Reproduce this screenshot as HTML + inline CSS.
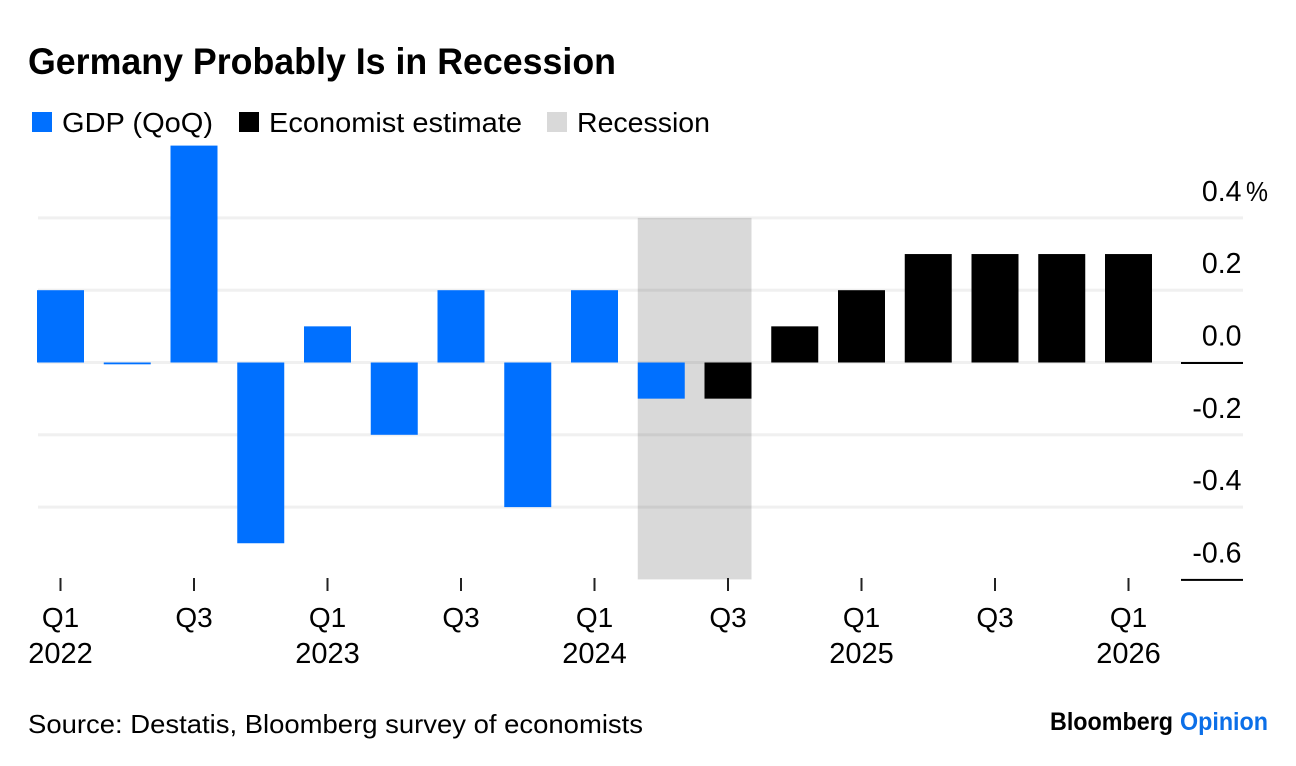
<!DOCTYPE html>
<html lang="en">
<head>
<meta charset="utf-8">
<title>Germany Probably Is in Recession</title>
<style>
html,body{margin:0;padding:0;background:#fff;}
svg{display:block;font-family:"Liberation Sans",Arial,sans-serif;}
text{fill:#000;}
</style>
</head>
<body>
<svg id="chart" xmlns="http://www.w3.org/2000/svg" width="1296" height="766" viewBox="0 0 1296 766">
  <rect width="1296" height="766" fill="#ffffff"/>
  <text x="28" y="74" font-size="37" font-weight="700" textLength="588" lengthAdjust="spacingAndGlyphs">Germany Probably Is in Recession</text>

  <g>
    <rect x="32" y="112" width="20" height="20" fill="#0070ff"/>
    <text x="62" y="132" font-size="28" textLength="151" lengthAdjust="spacingAndGlyphs">GDP (QoQ)</text>
    <rect x="239" y="112" width="20" height="20" fill="#000000"/>
    <text x="269" y="132" font-size="28" textLength="253" lengthAdjust="spacingAndGlyphs">Economist estimate</text>
    <rect x="547" y="112" width="20" height="20" fill="#d9d9d9"/>
    <text x="577" y="132" font-size="28" textLength="133" lengthAdjust="spacingAndGlyphs">Recession</text>
  </g>

  <g id="plot"></g>

  <text x="28" y="733" font-size="26" textLength="615" lengthAdjust="spacingAndGlyphs">Source: Destatis, Bloomberg survey of economists</text>
  <g>
    <text x="1050" y="730" font-size="25" font-weight="700" textLength="123" lengthAdjust="spacingAndGlyphs">Bloomberg</text>
    <text x="1180" y="730" font-size="25" font-weight="700" textLength="88" lengthAdjust="spacingAndGlyphs" style="fill:#0b6fe8">Opinion</text>
  </g>
</svg>
<script>
const gdpValues = [0.2, -0.005, 0.6, -0.5, 0.1, -0.2, 0.2, -0.4, 0.2, -0.1];
const estimateValues = [-0.1, 0.1, 0.2, 0.3, 0.3, 0.3, 0.3];
const quarterLabels = ['Q1', '', 'Q3', '', 'Q1', '', 'Q3', '', 'Q1', '', 'Q3', '', 'Q1', '', 'Q3', '', 'Q1'];
const yearLabels = ['2022', '', '', '', '2023', '', '', '', '2024', '', '', '', '2025', '', '', '', '2026'];
const yTickValues = [0.4, 0.2, 0, -0.2, -0.4, -0.6];
const yTickLabels = ['0.4', '0.2', '0.0', '-0.2', '-0.4', '-0.6'];
const recessionQuarters = [9, 10];

const NS = 'http://www.w3.org/2000/svg';
const plot = document.getElementById('plot');
const barWidth = 47;
function xScale(i) { return 37 + i * 66.75; }
function yScale(v) { return 362.5 - v * 361.5; }
function make(tag, attrs, parent) {
  const el = document.createElementNS(NS, tag);
  for (const k in attrs) el.setAttribute(k, attrs[k]);
  (parent || plot).appendChild(el);
  return el;
}

// Recession band
const bandLeft = xScale(recessionQuarters[0]);
const bandRight = xScale(recessionQuarters[1]) + barWidth;
const band = make('rect', {x: bandLeft, y: yScale(0.4), width: bandRight - bandLeft, height: yScale(-0.6) - yScale(0.4), fill: '#d9d9d9'});



// Gridlines and y tick labels
yTickValues.forEach(function (v, i) {
  const y = yScale(v);
  if (v !== -0.6) {
    const grid = make('rect', {x: 38, y: y - 1.5, width: 1205, height: 3, fill: '#000000', 'fill-opacity': 0.06});
    
    
  }
  const label = make('text', {x: 1241.5, y: y - 17, 'font-size': 28.5, 'text-anchor': 'end'});
  
  
  label.textContent = yTickLabels[i];
});
const percent = make('text', {x: 1246, y: yScale(0.4) - 17, 'font-size': 28, textLength: 22, lengthAdjust: 'spacingAndGlyphs'});


percent.textContent = '%';

// Axis rules on the right
[0, -0.6].forEach(function (v) {
  const rule = make('rect', {x: 1181, y: yScale(v) - 0.5, width: 62, height: 2, fill: '#000000'});
  
  
});

// Bars
function drawBar(value, index, color) {
  const top = yScale(Math.max(value, 0));
  const bottom = yScale(Math.min(value, 0));
  const r = make('rect', {x: xScale(index), y: top, width: barWidth, height: bottom - top, fill: color});
  return r;
}
gdpValues.forEach(function (v, i) {
  const bar = drawBar(v, i, '#0070ff');
  
  
});
estimateValues.forEach(function (v, i) {
  const bar = drawBar(v, gdpValues.length + i, '#000000');
  
  
});

// X axis ticks and labels
quarterLabels.forEach(function (q, i) {
  if (!q) return;
  const cx = xScale(i) + barWidth / 2;
  const tick = make('rect', {x: cx - 1, y: 578, width: 2, height: 13, fill: '#222222'});
  
  
  const ql = make('text', {x: cx, y: 627, 'font-size': 28, 'text-anchor': 'middle'});
  
  
  ql.textContent = q;
  if (yearLabels[i]) {
    const yl = make('text', {x: cx, y: 663, 'font-size': 29, 'text-anchor': 'middle'});
    
    
    yl.textContent = yearLabels[i];
  }
});
</script>
</body>
</html>
